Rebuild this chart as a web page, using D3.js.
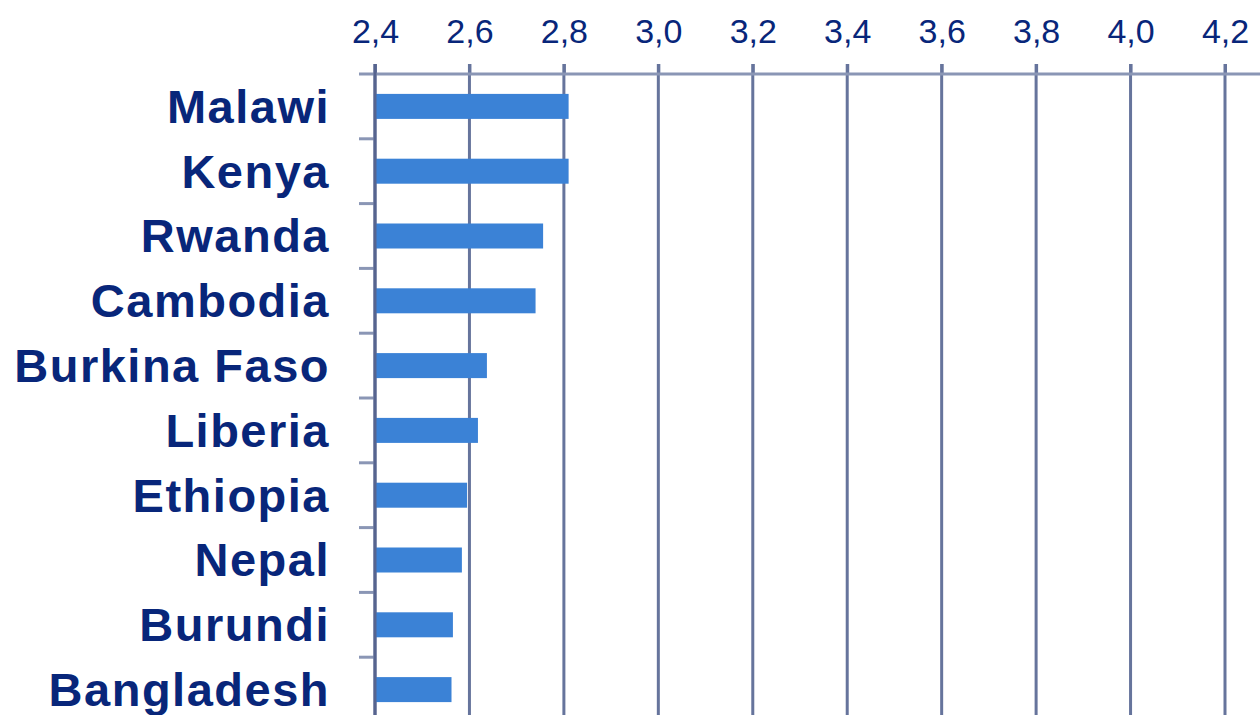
<!DOCTYPE html>
<html>
<head>
<meta charset="utf-8">
<script src="https://cdn.jsdelivr.net/npm/d3@7"></script>
<style>
  html, body { margin: 0; padding: 0; background: #fff; }
  svg { display: block; }
</style>
</head>
<body>
<svg id="chart" width="1260" height="715"></svg>
<script>
// data
var countries = ["Malawi", "Kenya", "Rwanda", "Cambodia", "Burkina Faso",
                 "Liberia", "Ethiopia", "Nepal", "Burundi", "Bangladesh"];
var values = [2.81, 2.81, 2.756, 2.74, 2.637, 2.618, 2.595, 2.584, 2.565, 2.562];
var xTicks = [2.4, 2.6, 2.8, 3.0, 3.2, 3.4, 3.6, 3.8, 4.0, 4.2];

var ds = countries.map((c, i) => ({ dim: c, metric: values[i] }));

let svg = d3.select("#chart"),
    cs = {
        pallette: {
            bar: '#3b82d6',
            text: '#08267a',
            grid: '#66749c',
            axis: '#8a96b5'
        },
        top: 74,
        bottom: 722,
        left: 375,
        right: 1225
    };

var locale = d3.formatLocale({ decimal: ",", thousands: ".", grouping: [3], currency: ["", ""] });
var fmt = locale.format(".1f");

cs.x = d3.scaleLinear().domain([2.4, 4.2]).range([cs.left, cs.right]);
cs.y = d3.scaleBand().domain(countries).range([cs.top, cs.bottom]);

// vertical gridlines
svg.append("g").selectAll("line")
    .data(xTicks)
    .enter().append("line")
    .attr("x1", d => cs.x(d)).attr("x2", d => cs.x(d))
    .attr("y1", cs.top - 10).attr("y2", 715)
    .attr("stroke", cs.pallette.grid)
    .attr("stroke-width", 3);

// top axis
var xAxis = d3.axisTop(cs.x).tickValues(xTicks).tickFormat(fmt)
    .tickSize(10).tickPadding(21).tickSizeOuter(0);
var gx = svg.append("g").attr("transform", "translate(0," + cs.top + ")").call(xAxis);
gx.select(".domain").remove();
gx.selectAll(".tick line").attr("stroke", cs.pallette.grid).attr("stroke-width", 3);
gx.selectAll(".tick text")
    .attr("fill", cs.pallette.text)
    .style("font-family", "'Liberation Sans', Arial, sans-serif")
    .style("font-size", "34px");
gx.append("line")
    .attr("x1", cs.left - 16).attr("x2", 1260)
    .attr("y1", 0).attr("y2", 0)
    .attr("stroke", cs.pallette.axis).attr("stroke-width", 3);

// bars
var barH = 25;
svg.append("g").selectAll("rect")
    .data(ds)
    .enter().append("rect")
    .attr("x", cs.left + 1)
    .attr("y", d => cs.y(d.dim) + cs.y.bandwidth() / 2 - barH / 2)
    .attr("width", d => cs.x(d.metric) - cs.left - 1)
    .attr("height", barH)
    .attr("fill", cs.pallette.bar);

// left axis with ticks at band boundaries
var gy = svg.append("g");
gy.selectAll("line.btick")
    .data(countries.slice(1))
    .enter().append("line")
    .attr("class", "btick")
    .attr("x1", cs.left - 16).attr("x2", cs.left)
    .attr("y1", d => cs.y(d)).attr("y2", d => cs.y(d))
    .attr("stroke", cs.pallette.axis).attr("stroke-width", 3);
gy.append("line")
    .attr("x1", cs.left).attr("x2", cs.left)
    .attr("y1", cs.top - 10).attr("y2", 715)
    .attr("stroke", '#56648f').attr("stroke-width", 3);

// category labels
svg.append("g").selectAll("text")
    .data(ds)
    .enter().append("text")
    .attr("x", 330)
    .attr("y", d => cs.y(d.dim) + cs.y.bandwidth() / 2)
    .attr("dy", "0.35em")
    .attr("text-anchor", "end")
    .attr("fill", cs.pallette.text)
    .style("font-family", "'Liberation Sans', Arial, sans-serif")
    .style("font-weight", "bold")
    .style("font-size", "47px")
    .style("letter-spacing", "1.5px")
    .text(d => d.dim);
</script>
</body>
</html>
